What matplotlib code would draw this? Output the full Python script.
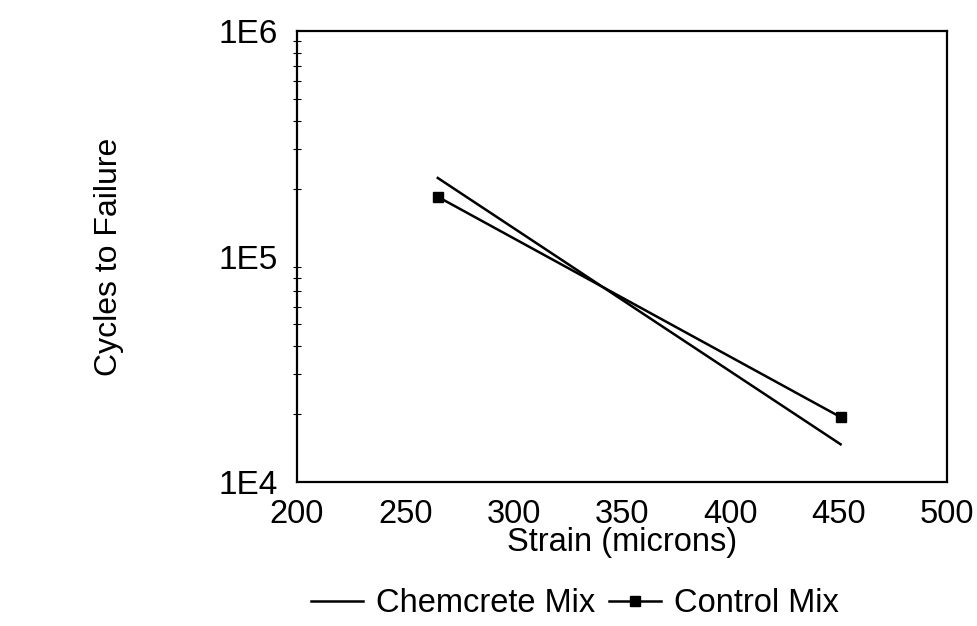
import numpy as np
import matplotlib.pyplot as plt
from matplotlib.ticker import FixedLocator, FixedFormatter, LogLocator, NullFormatter

plt.rcParams['font.family'] = ['Liberation Sans', 'DejaVu Sans']

# fitted fatigue lines, end points only
chemcrete_strain = [265, 451]
chemcrete_cycles = [2.23e5, 1.47e4]
control_strain = [265, 451]
control_cycles = [1.84e5, 1.94e4]

x_ticks = [200, 250, 300, 350, 400, 450, 500]
y_ticks = [1e4, 1e5, 1e6]
y_tick_labels = ["1E4", "1E5", "1E6"]

fig = plt.figure(figsize=(9.77, 6.26), dpi=100)
ax = fig.add_axes([0.304, 0.230, 0.665, 0.7205])

ax.plot(chemcrete_strain, chemcrete_cycles, color="black", lw=1.8, label="Chemcrete Mix")
ax.plot(control_strain, control_cycles, color="black", lw=1.8, marker="s",
        markersize=7, label="Control Mix")

ax.set_yscale("log")
ax.set_xlim(200, 500)
ax.set_ylim(1e4, 1e6)

ax.xaxis.set_major_locator(FixedLocator(x_ticks))
ax.yaxis.set_major_locator(FixedLocator(y_ticks))
ax.yaxis.set_major_formatter(FixedFormatter(y_tick_labels))
ax.yaxis.set_minor_locator(LogLocator(base=10, subs=np.arange(2, 10)))
ax.yaxis.set_minor_formatter(NullFormatter())

ax.tick_params(axis="x", which="major", length=0, labelsize=23.5, pad=12)
ax.tick_params(axis="y", which="major", length=0, labelsize=24, pad=14)
ax.tick_params(axis="y", which="minor", direction="inout", length=6, width=0.8)
ax.tick_params(axis="x", which="minor", length=0)

for sp in ax.spines.values():
    sp.set_linewidth(1.6)

ax.set_xlabel("Strain (microns)", fontsize=23.5, labelpad=-2)
ax.set_ylabel("Cycles to Failure", fontsize=23, labelpad=68)

fig.legend(loc="center", bbox_to_anchor=(575 / 977, 1 - 604 / 626), ncol=2,
           frameon=False, fontsize=23.5, handlelength=1.6, handletextpad=0.4,
           columnspacing=0.4)

fig.savefig("out.png", dpi=100)
